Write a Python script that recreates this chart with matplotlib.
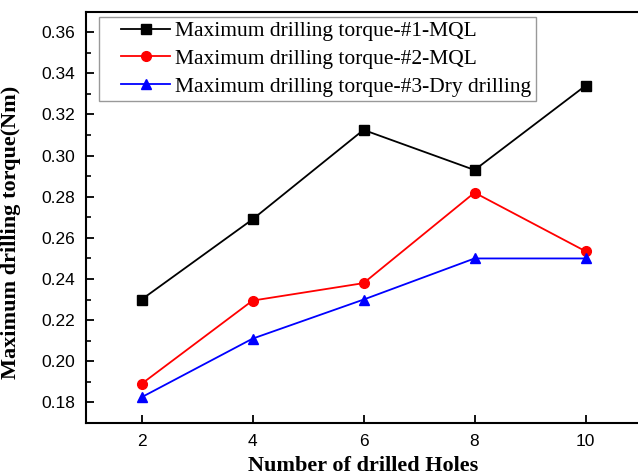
"""
Maximum drilling torque vs number of drilled holes.
"""

import matplotlib.pyplot as plt
from matplotlib.lines import Line2D
from matplotlib.legend_handler import HandlerLine2D
from matplotlib.ticker import MultipleLocator

holes = [2, 4, 6, 8, 10]
torque_mql1 = [0.230, 0.269, 0.3125, 0.293, 0.334]
torque_mql2 = [0.189, 0.2295, 0.238, 0.282, 0.2535]
torque_dry = [0.1825, 0.211, 0.230, 0.250, 0.250]

labels = [
    "Maximum drilling torque-#1-MQL",
    "Maximum drilling torque-#2-MQL",
    "Maximum drilling torque-#3-Dry drilling",
]


def main() -> None:
    fig = plt.figure(figsize=(6.38, 4.75), dpi=100)
    ax = fig.add_axes([0.1348, 0.1095, 0.870, 0.866])

    ax.plot(holes, torque_mql1, color="black", marker="s", ms=6.5, lw=1.3, label=labels[0])
    ax.plot(holes, torque_mql2, color="red", marker="o", ms=7, lw=1.3, label=labels[1])
    ax.plot(holes, torque_dry, color="blue", marker="^", ms=7.5, lw=1.3, label=labels[2])

    ax.set_xlim(1, 11)
    ax.set_ylim(0.17, 0.37)
    ax.set_xticks(holes)
    ax.yaxis.set_major_locator(MultipleLocator(0.02))
    ax.yaxis.set_minor_locator(MultipleLocator(0.01))
    ax.yaxis.set_major_formatter(plt.FormatStrFormatter("%.2f"))

    ax.tick_params(axis="both", which="major", direction="in", length=6, width=1.3,
                   labelsize=12.5, pad=8)
    ax.tick_params(axis="y", which="minor", direction="in", length=3.5, width=1.2)
    for lab in ax.get_xticklabels() + ax.get_yticklabels():
        lab.set_fontfamily("Liberation Sans")
    for sp in ax.spines.values():
        sp.set_linewidth(1.5)

    ax.set_xlabel("Number of drilled Holes", fontfamily="Liberation Serif",
                  fontweight="bold", fontsize=16, labelpad=5)
    ax.set_ylabel("Maximum drilling torque(Nm)", fontfamily="Liberation Serif",
                  fontweight="bold", fontsize=16)
    ax.yaxis.set_label_coords(-0.117, 0.463)

    # shift the legend handles right so the box has the wider left margin
    leg = ax.legend(loc="upper left", bbox_to_anchor=(0.023, 0.987), borderaxespad=0,
                    prop={"family": "Liberation Serif", "size": 15.5},
                    fancybox=False, edgecolor="gray", handlelength=3.1,
                    handletextpad=0.25, labelspacing=0.35, borderpad=0.2,
                    handler_map={Line2D: HandlerLine2D(xpad=0.85)})
    leg.get_frame().set_linewidth(1.0)

    fig.savefig("out.png", dpi=100)


if __name__ == "__main__":
    main()
